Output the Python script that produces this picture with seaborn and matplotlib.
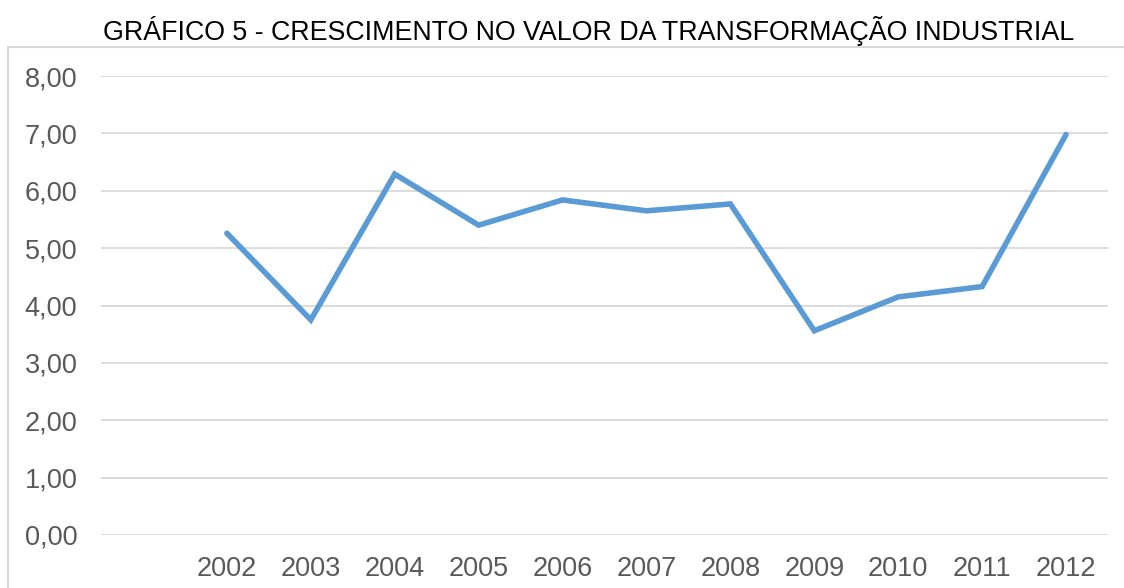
import matplotlib
matplotlib.use('Agg')
import matplotlib.pyplot as plt
import matplotlib.patches as patches
from matplotlib.ticker import FuncFormatter
import seaborn as sns
import pandas as pd

sns.set_style('white')
plt.rcParams['font.family'] = ['Liberation Sans', 'DejaVu Sans']

years = [2002, 2003, 2004, 2005, 2006, 2007, 2008, 2009, 2010, 2011, 2012]
crescimento = [5.26, 3.75, 6.29, 5.40, 5.84, 5.65, 5.77, 3.56, 4.15, 4.33, 6.98]
title = 'GRÁFICO 5 - CRESCIMENTO NO VALOR DA TRANSFORMAÇÃO INDUSTRIAL'

df = pd.DataFrame({'ano': years, 'valor': crescimento})

fig = plt.figure(figsize=(11.24, 5.88), dpi=100)
ax = fig.add_axes([101/1124, 1 - 535/588, 1007/1124, 459/588])

# light frame around the chart (cropped at right and bottom)
fig.patches.append(patches.Rectangle((8/1124, -0.05), 1.2, 1 - 47/588 + 0.05,
                                     transform=fig.transFigure, fill=False,
                                     edgecolor='#D9D9D9', linewidth=1.5))

sns.lineplot(data=df, x='ano', y='valor', ax=ax, color='#5B9BD5', linewidth=4,
             solid_capstyle='round', solid_joinstyle='miter')

ax.set_xlim(2000.5, 2012.5)
ax.set_ylim(0, 8)
ax.set_yticks(range(0, 9))
ax.yaxis.set_major_formatter(FuncFormatter(lambda v, p: f'{v:.2f}'.replace('.', ',')))
ax.set_xticks(years)
ax.set_xticklabels([str(y) for y in years])
ax.grid(axis='y', color='#D9D9D9', linewidth=1.3)
ax.set_axisbelow(True)
for s in ax.spines.values():
    s.set_visible(False)
ax.tick_params(axis='y', length=0, pad=17, labelsize=19.5, labelcolor='#595959')
ax.tick_params(axis='x', length=0, pad=15, labelsize=19.5, labelcolor='#595959')
ax.set_xlabel('')
ax.set_ylabel('')

fig.text(589/1124, 1 - 31/588, title, ha='center', va='center', fontsize=19.3, color='black')

fig.savefig('out.png', dpi=100)
